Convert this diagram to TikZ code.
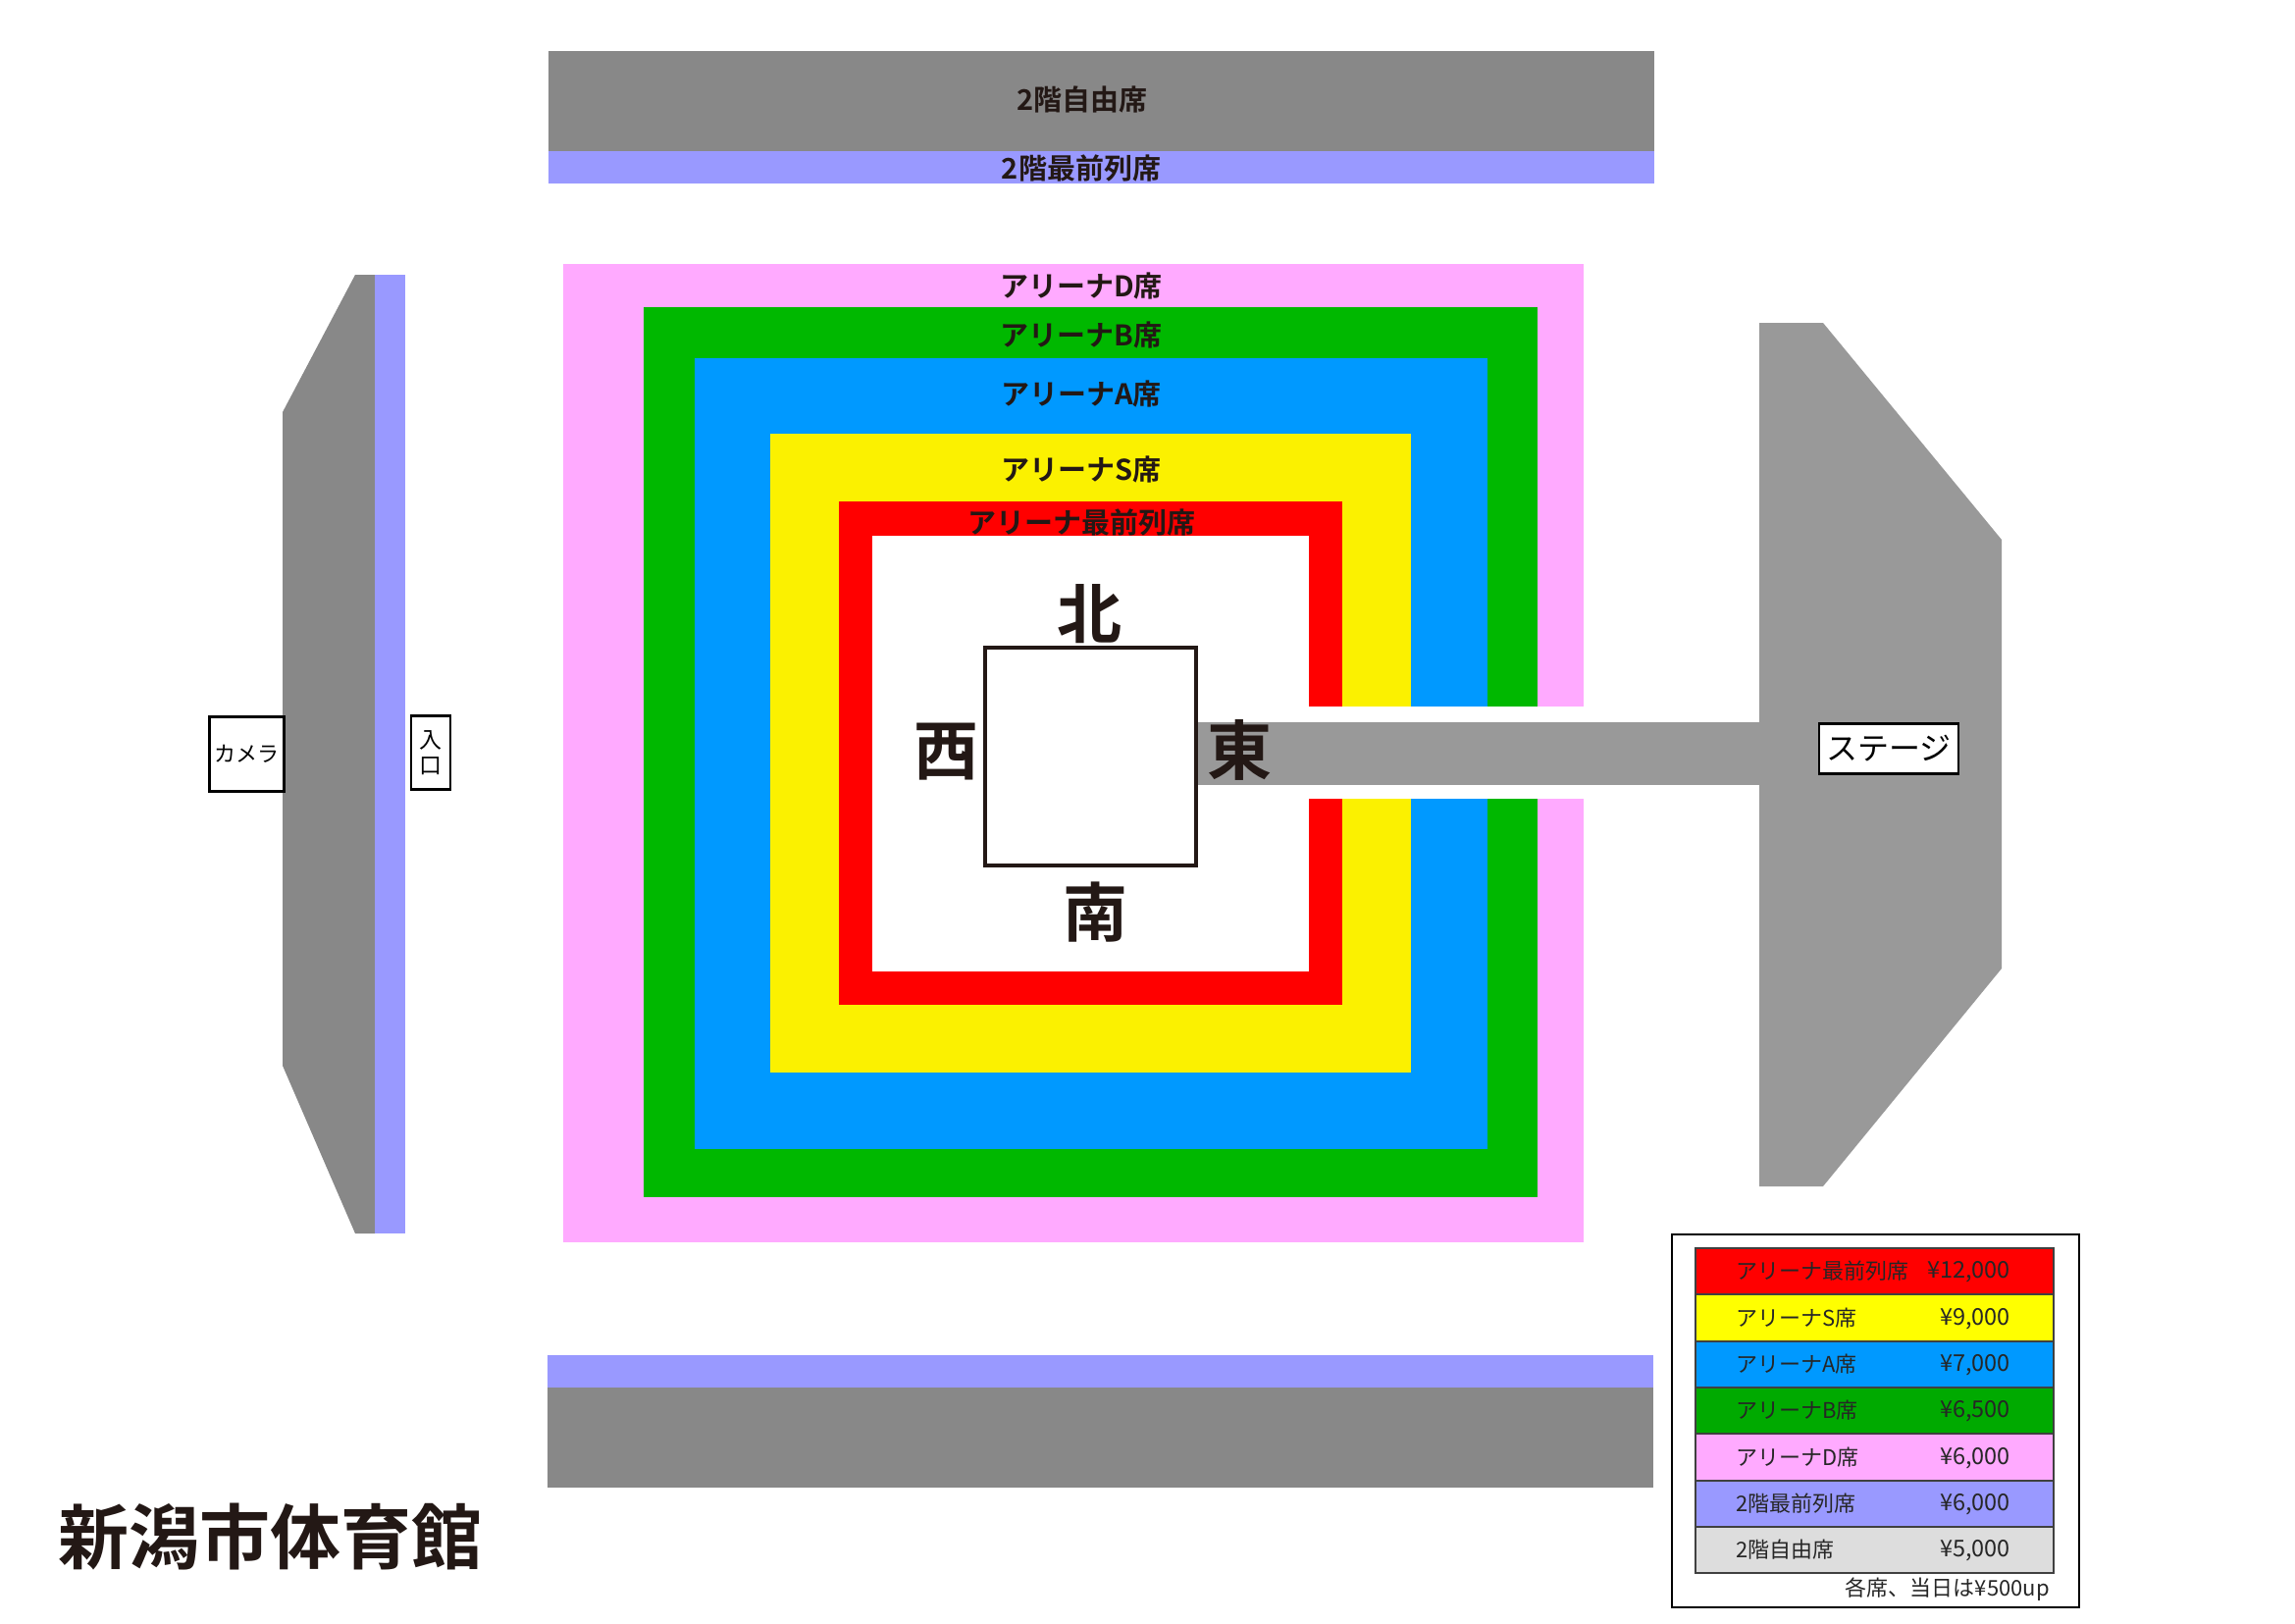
\documentclass[tikz,border=0pt]{standalone}
\usepackage{fontspec}
\setmainfont{Noto Sans CJK JP}[BoldFont={Noto Sans CJK JP Bold}]
\definecolor{inkc}{HTML}{231815}
\definecolor{seatgray}{HTML}{888888}
\definecolor{stagegray}{HTML}{999999}
\definecolor{lilac}{HTML}{9999FF}
\definecolor{pinkd}{HTML}{FFAAFF}
\definecolor{greenb}{HTML}{00B800}
\definecolor{bluea}{HTML}{0099FF}
\definecolor{yellows}{HTML}{FBF100}
\definecolor{lgreen}{HTML}{00AA00}
\definecolor{lyellow}{HTML}{FFFF00}
\definecolor{lgray}{HTML}{DDDDDD}
\tikzset{
  seatlabel/.style={font=\fontsize{29}{29}\selectfont\bfseries,text=inkc,inner sep=0pt},
  dirlabel/.style={font=\fontsize{66}{66}\selectfont\bfseries,text=inkc,inner sep=0pt},
  tagbox/.style={draw=black,fill=white,line width=3pt,inner sep=0pt,anchor=center},
  legendrow/.style={draw=black!75,line width=1.2pt},
  legendtext/.style={font=\fontsize{22}{22}\selectfont,text=black!85,inner sep=0pt},
  legendprice/.style={font=\fontsize{23.5}{23.5}\selectfont,text=black!85,inner sep=0pt}
}
\begin{document}
\begin{tikzpicture}[x=1pt,y=-1pt]
\useasboundingbox (0,0) rectangle (2339,1654);
% upper balcony
\fill[seatgray] (559,52) rectangle (1686,154);
\fill[lilac] (559,154) rectangle (1686,187);
\node[seatlabel] (free2) at (1103,101) {2階自由席};
\node[seatlabel] (front2) at (1102,171) {2階最前列席};
% lower balcony
\fill[lilac] (558,1381) rectangle (1685,1414);
\fill[seatgray] (558,1414) rectangle (1685,1516);
% west balcony
\fill[seatgray] (362,280) -- (382,280) -- (382,1257) -- (362,1257) -- (288,1086) -- (288,420) -- cycle;
\fill[lilac] (382,280) rectangle (413,1257);
% arena blocks
\fill[pinkd] (574,269) rectangle (1614,1266);
\fill[greenb] (656,313) rectangle (1567,1220);
\fill[bluea] (708,365) rectangle (1516,1171);
\fill[yellows] (785,442) rectangle (1438,1093);
\fill[red] (855,511) rectangle (1368,1024);
\fill[white] (889,546) rectangle (1334,990);
\fill[white] (1334,720) rectangle (1620,814);
% stage and walkway
\fill[stagegray] (1219,736) rectangle (1793,800);
\fill[stagegray] (1793,329) -- (1858,329) -- (2040,550) -- (2040,987) -- (1858,1209) -- (1793,1209) -- cycle;
% ring
\draw[inkc,line width=4.5pt,fill=white] (1004,660) rectangle (1219,882);
% arena labels
\node[seatlabel] (ad) at (1102,291.5) {アリーナD席};
\node[seatlabel] (ab) at (1102,341) {アリーナB席};
\node[seatlabel] (aa) at (1102,401) {アリーナA席};
\node[seatlabel] (as) at (1102,478) {アリーナS席};
\node[seatlabel] (af) at (1102,532) {アリーナ最前列席};
\node[dirlabel] (north) at (1110,626) {北};
\node[dirlabel] (south) at (1116,930) {南};
\node[dirlabel] (west) at (964,766) {西};
\node[dirlabel] (east) at (1263,764) {東};
% tags
\node[tagbox,minimum width=76pt,minimum height=76pt,font=\fontsize{22}{22}\selectfont] (camera) at (251,768.5) {カメラ};
\node[tagbox,minimum width=40pt,minimum height=75pt,line width=2.2pt,font=\fontsize{23}{26}\selectfont,align=center] (entry) at (439,767) {入\\口};
\node[tagbox,minimum width=142pt,minimum height=51pt,line width=2.2pt,font=\fontsize{32}{32}\selectfont] (stagetag) at (1925,763) {ステージ};
% title
\node[font=\fontsize{72}{72}\selectfont\bfseries,text=inkc,inner sep=0pt,anchor=west] (title) at (59,1566) {新潟市体育館};
% legend
\draw[black,line width=1.5pt] (1704,1258) rectangle (2119,1638);
\foreach \ya/\yb/\c/\t/\p/\n in {
  1272/1319/red/アリーナ最前列席/{¥12,000}/l1,
  1319/1367/lyellow/アリーナS席/{¥9,000}/l2,
  1367/1414/bluea/アリーナA席/{¥7,000}/l3,
  1414/1461/lgreen/アリーナB席/{¥6,500}/l4,
  1461/1509/pinkd/アリーナD席/{¥6,000}/l5,
  1509/1556/lilac/2階最前列席/{¥6,000}/l6,
  1556/1603/lgray/2階自由席/{¥5,000}/l7}{
  \draw[legendrow,fill=\c] (1728,\ya) rectangle (2093,\yb);
  \node[legendtext,anchor=west] (\n t) at (1769,{(\ya+\yb)/2}) {\t};
  \node[legendprice,anchor=east] (\n p) at (2049,{(\ya+\yb)/2+1}) {\p};
}
\node[legendtext,anchor=east] (note) at (2089,1620) {各席、当日は¥500up};
\end{tikzpicture}
\end{document}
